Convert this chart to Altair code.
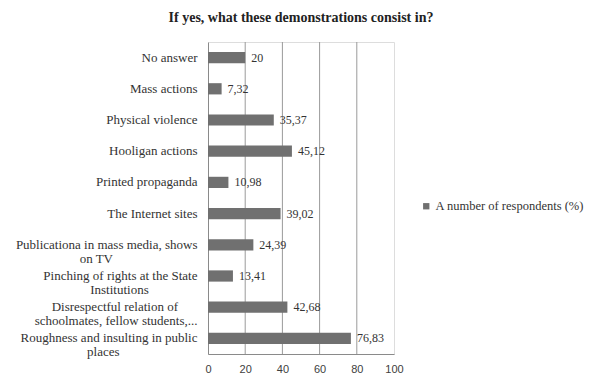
import altair as alt
import pandas as pd

NB = "\u00a0"

categories = [
    "No answer",
    "Mass actions",
    "Physical violence",
    "Hooligan actions",
    "Printed  propaganda",
    "The Internet sites",
    "Publicationa in mass media, shows\non TV" + NB * 26 + "\u200d",
    "Pinching of rights at the State\nInstitutions" + NB * 15 + "\u200d",
    "Disrespectful relation of" + NB * 6 + "\u200d" + "\nschoolmates, fellow students,...",
    "Roughness and insulting in public\nplaces" + NB * 24 + "\u200d",
]
values = [20, 7.32, 35.37, 45.12, 10.98, 39.02, 24.39, 13.41, 42.68, 76.83]
series_name = "A number of respondents (%)"
x_ticks = [0, 20, 40, 60, 80, 100]
grid_values = [20, 40, 60, 80]

df = pd.DataFrame({"category": categories, "value": values, "series": series_name})
grid_df = pd.DataFrame({"g": grid_values})

W, H = 186, 312

y_axis = alt.Axis(
    title=None,
    labelExpr="split(datum.label, '\\n')",
    labelFont="Liberation Serif",
    labelFontSize=13,
    labelColor="#333333",
    labelLineHeight=14,
    labelPadding=11,
    labelLimit=300,
    ticks=False,
    domainColor="#8a8a8a",
    grid=False,
)
y_scale = alt.Scale(paddingInner=0.64, paddingOuter=0.32)

x_axis = alt.Axis(
    title=None,
    values=x_ticks,
    grid=False,
    ticks=False,
    labelFont="Liberation Sans",
    labelFontSize=11,
    labelColor="#404040",
    labelPadding=9,
    labelOverlap=False,
    labelFlush=False,
    domainColor="#8a8a8a",
)
x_scale = alt.Scale(domain=[0, 100], nice=False)

grid = alt.Chart(grid_df).mark_rule(color="#9a9a9a", strokeWidth=1).encode(
    x=alt.X("g:Q", scale=x_scale, axis=x_axis),
)

bars = alt.Chart(df).mark_bar(color="#707070").encode(
    x=alt.X("value:Q", scale=x_scale, axis=x_axis),
    y=alt.Y("category:N", sort=categories, scale=y_scale, axis=y_axis),
    color=alt.Color(
        "series:N",
        scale=alt.Scale(range=["#707070"]),
        legend=alt.Legend(
            title=None,
            orient="none",
            legendX=212,
            legendY=158,
            symbolType="square",
            symbolSize=40,
            symbolStrokeWidth=0,
            labelFont="Liberation Serif",
            labelFontSize=12.5,
            labelColor="#333333",
            labelLimit=300,
            padding=0,
            labelOffset=3,
        ),
    ),
)

labels = alt.Chart(df).transform_calculate(
    lbl="replace(toString(datum.value), '.', ',')"
).mark_text(
    align="left", baseline="middle", dx=6, font="Liberation Serif", fontSize=12, color="#333333"
).encode(
    x=alt.X("value:Q", scale=x_scale, axis=x_axis),
    y=alt.Y("category:N", sort=categories, scale=y_scale, axis=y_axis),
    text="lbl:N",
)

chart = alt.layer(grid, bars, labels).properties(
    width=W,
    height=H,
    autosize=alt.AutoSizeParams(type="none"),
    padding={"left": 208, "top": 42, "right": 590 - 208 - W, "bottom": 379 - 42 - H},
    title=alt.Title(
        "If yes, what these demonstrations consist in?",
        font="Liberation Serif",
        fontSize=14,
        fontWeight="bold",
        color="#222222",
        anchor="middle",
        offset=17,
    ),
).configure_view(stroke=None).configure(background="white")

chart.save("out.html", embed_options={"renderer": "svg", "actions": False})
